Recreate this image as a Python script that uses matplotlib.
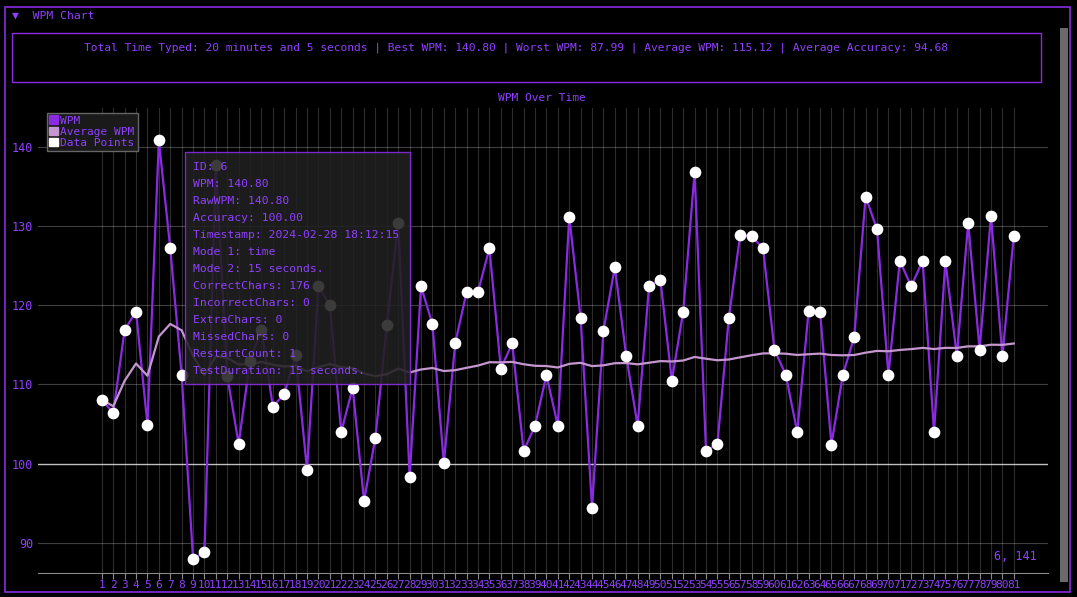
import numpy as np
import matplotlib.pyplot as plt
from matplotlib.patches import Rectangle, Patch

# WPM values per test
test_ids = list(range(1, 82))
wpm = [108.1, 106.4, 116.9, 119.2, 104.9, 140.8, 127.2, 111.2, 88.0, 88.8,
       137.7, 111.1, 102.5, 113.0, 116.9, 107.2, 108.8, 113.7, 99.2, 122.4,
       120.0, 104.0, 109.6, 95.3, 103.3, 117.5, 130.4, 98.3, 122.4, 117.6,
       100.1, 115.2, 121.7, 121.7, 127.2, 112.0, 115.2, 101.6, 104.8, 111.2,
       104.8, 131.2, 118.4, 94.4, 116.8, 124.8, 113.6, 104.8, 122.4, 123.2,
       110.5, 119.2, 136.8, 101.6, 102.5, 118.4, 128.9, 128.7, 127.2, 114.4,
       111.2, 104.0, 119.3, 119.2, 102.4, 111.2, 116.0, 133.7, 129.6, 111.2,
       125.6, 122.4, 125.6, 104.0, 125.6, 113.6, 130.4, 114.4, 131.3, 113.6,
       128.8]
avg_wpm = np.cumsum(wpm) / np.arange(1, len(wpm) + 1)

stats_text = ("Total Time Typed: 20 minutes and 5 seconds | Best WPM: 140.80 | "
              "Worst WPM: 87.99 | Average WPM: 115.12 | Average Accuracy: 94.68")
tooltip_lines = ["ID: 6", "WPM: 140.80", "RawWPM: 140.80", "Accuracy: 100.00",
                 "Timestamp: 2024-02-28 18:12:15", "Mode 1: time",
                 "Mode 2: 15 seconds.", "CorrectChars: 176", "IncorrectChars: 0",
                 "ExtraChars: 0", "MissedChars: 0", "RestartCount: 1",
                 "TestDuration: 15 seconds."]

PURPLE = "#8a2be2"
TXT = "#9040ff"
AVG = "#c596cf"
W, H = 1077, 597
mono = "DejaVu Sans Mono"

fig = plt.figure(figsize=(W / 100, H / 100), dpi=100, facecolor="black")

def px(x, y, w, h):
    return [x / W, 1 - (y + h) / H, w / W, h / H]

# frame, header, stats box, scrollbar
fig.patches.append(Rectangle((5 / W, 5 / H), 1065 / W, 585 / H, transform=fig.transFigure,
                             fill=False, ec=PURPLE, lw=1.2))
fig.text(12 / W, 1 - 16 / H, "▼  WPM Chart", color=TXT, family=mono, fontsize=8.2, va="center")
fig.patches.append(Rectangle((12 / W, 1 - 82 / H), 1029 / W, 49 / H, transform=fig.transFigure,
                             fill=False, ec=PURPLE, lw=1))
fig.text(516 / W, 1 - 48 / H, stats_text, color=TXT, family=mono, fontsize=8.15, ha="center", va="center")
fig.patches.append(Rectangle((1060 / W, 1 - 582 / H), 8 / W, 554 / H, transform=fig.transFigure,
                             fc="#6a6a6a", ec="none"))
fig.text(542 / W, 1 - 98 / H, "WPM Over Time", color=TXT, family=mono, fontsize=8, ha="center", va="center")

ax = fig.add_axes(px(38, 108, 1010, 465))
ax.set_facecolor("black")
ax.plot(test_ids, wpm, color=PURPLE, lw=1.6, zorder=3)
ax.plot(test_ids, avg_wpm, color=AVG, lw=1.6, zorder=3)
ax.scatter(test_ids, wpm, s=55, color="white", zorder=4)
ax.set_xlim(-4.6, 84)
ax.set_ylim(86.2, 144.9)
ax.set_xticks(test_ids)
ax.set_xticklabels([str(i) for i in test_ids], fontsize=8, family=mono, color=TXT)
ax.set_yticks([90, 100, 110, 120, 130, 140])
ax.tick_params(axis="y", colors=TXT, labelsize=8.5, length=0)
ax.tick_params(axis="x", colors="#888888", labelcolor=TXT, length=4, pad=1)
for lab in ax.get_yticklabels():
    lab.set_family(mono)
ax.grid(axis="x", color="#ffffff", alpha=0.18, lw=0.8)
ax.grid(axis="y", color="#ffffff", alpha=0.25, lw=0.8)
ax.axhline(100, color="#aaaaaa", lw=1, zorder=1)
for s in ["top", "right", "left"]:
    ax.spines[s].set_visible(False)
ax.spines["bottom"].set_color("#888888")

# square swatches like the reference
leg = ax.legend(handles=[Patch(color=PURPLE, label="WPM"), Patch(color=AVG, label="Average WPM"),
                         Patch(color="white", label="Data Points")],
                loc="upper left", bbox_to_anchor=(0.0085, 0.99), prop={"family": mono, "size": 8},
                handlelength=0.8, handleheight=0.8, borderpad=0.25, labelspacing=0.1,
                handletextpad=0.2, borderaxespad=0, facecolor="#1a1a1a", edgecolor="#666666",
                framealpha=1, fancybox=False)
for t in leg.get_texts():
    t.set_color(TXT)

# tooltip
fig.patches.append(Rectangle((185 / W, 1 - 384 / H), 225 / W, 232 / H, transform=fig.transFigure,
                             fc="#202020", alpha=0.88, ec=PURPLE, lw=1, zorder=10))
for i, line in enumerate(tooltip_lines):
    fig.text(193 / W, 1 - (167 + i * 17) / H, line, color=TXT, family=mono, fontsize=8.2,
             va="center", zorder=11)

fig.text(1037 / W, 1 - 557 / H, "6, 141", color=TXT, family=mono, fontsize=8.5, ha="right", va="center")

fig.savefig("out.png", dpi=100, facecolor="black")
